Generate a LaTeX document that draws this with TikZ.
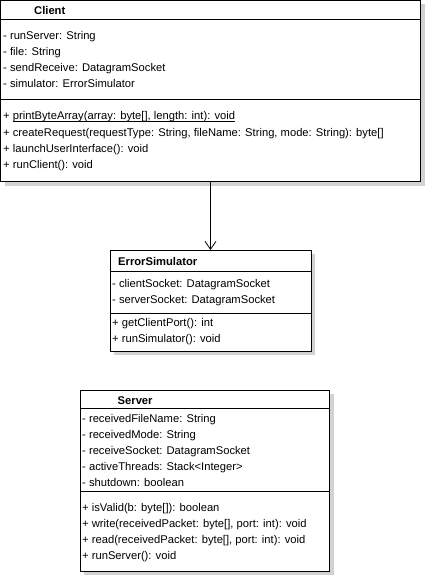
\documentclass[tikz,border=0pt]{standalone}
\usepackage{fontspec}
\setmainfont{Liberation Sans}
\usetikzlibrary{arrows.meta,shadows}
\definecolor{shadowgray}{HTML}{D2D2D2}
\newcommand\myul[1]{\setbox0\hbox{#1}\rlap{\rule[-1.6pt]{\wd0}{0.9pt}}\box0}
\begin{document}
\begin{tikzpicture}[x=1pt,y=-1pt,
  classbox/.style={draw=black, line width=1pt, fill=white, inner sep=0pt, outer sep=0pt,
    anchor=north west,
    drop shadow={shadow xshift=4pt, shadow yshift=-4pt, opacity=1, fill=shadowgray}},
  txt/.style={anchor=base west, inner sep=0pt, font=\fontsize{11.2}{13}\selectfont},
  ttl/.style={anchor=base west, inner sep=0pt, font=\fontsize{11.2}{13}\selectfont\bfseries},
  sepline/.style={line width=1pt},
  assoc/.style={line width=0.8pt, -{Straight Barb[length=8pt,width=11pt,line width=0.8pt]}}]
\useasboundingbox (0,0) rectangle (425,575);

% ---------- Client ----------
\node[classbox, minimum width=420pt, minimum height=181pt] (client) at (0.5,0.5) {};
\draw[sepline] (client.west |- 0,20) -- (client.east |- 0,20);
\draw[sepline] (client.west |- 0,100) -- (client.east |- 0,100);
\node[ttl] (clientT) at (34,15) {Client};
\node[txt] (c1) at (3,40) {- runServer: String};
\node[txt] (c2) at (3,56) {- file: String};
\node[txt] (c3) at (3,72) {- sendReceive: DatagramSocket};
\node[txt] (c4) at (3,88) {- simulator: ErrorSimulator};
\node[txt] (c5) at (3,120) {+ \myul{printByteArray(array: byte[], length: int): void}};
\node[txt] (c6) at (3,136) {+ createRequest(requestType: String, fileName: String, mode: String): byte[]};
\node[txt] (c7) at (3,152) {+ launchUserInterface(): void};
\node[txt] (c8) at (3,168) {+ runClient(): void};

% ---------- ErrorSimulator ----------
\node[classbox, minimum width=201pt, minimum height=101pt] (errsim) at (110,250) {};
\draw[sepline] (errsim.west |- 0,271) -- (errsim.east |- 0,271);
\draw[sepline] (errsim.west |- 0,313) -- (errsim.east |- 0,313);
\node[ttl] (eT) at (118,265) {ErrorSimulator};
\node[txt] (e1) at (112,287) {- clientSocket: DatagramSocket};
\node[txt] (e2) at (112,303) {- serverSocket: DatagramSocket};
\node[txt] (e3) at (112,326) {+ getClientPort(): int};
\node[txt] (e4) at (112,342) {+ runSimulator(): void};

% ---------- Server ----------
\node[classbox, minimum width=249.5pt, minimum height=181pt] (server) at (80,390) {};
\draw[sepline] (server.west |- 0,408) -- (server.east |- 0,408);
\draw[sepline] (server.west |- 0,491) -- (server.east |- 0,491);
\node[ttl] (sT) at (117.5,404.5) {Server};
\node[txt] (s1) at (82,422) {- receivedFileName: String};
\node[txt] (s2) at (82,438) {- receivedMode: String};
\node[txt] (s3) at (82,454) {- receiveSocket: DatagramSocket};
\node[txt] (s4) at (82,470) {- activeThreads: Stack<Integer>};
\node[txt] (s5) at (82,486) {- shutdown: boolean};
\node[txt] (s6) at (82,511) {+ isValid(b: byte[]): boolean};
\node[txt] (s7) at (82,527) {+ write(receivedPacket: byte[], port: int): void};
\node[txt] (s8) at (82,543) {+ read(receivedPacket: byte[], port: int): void};
\node[txt] (s9) at (82,559) {+ runServer(): void};

% ---------- association ----------
\draw[assoc] (client.south) -- (client.south |- errsim.north);
\end{tikzpicture}
\end{document}
